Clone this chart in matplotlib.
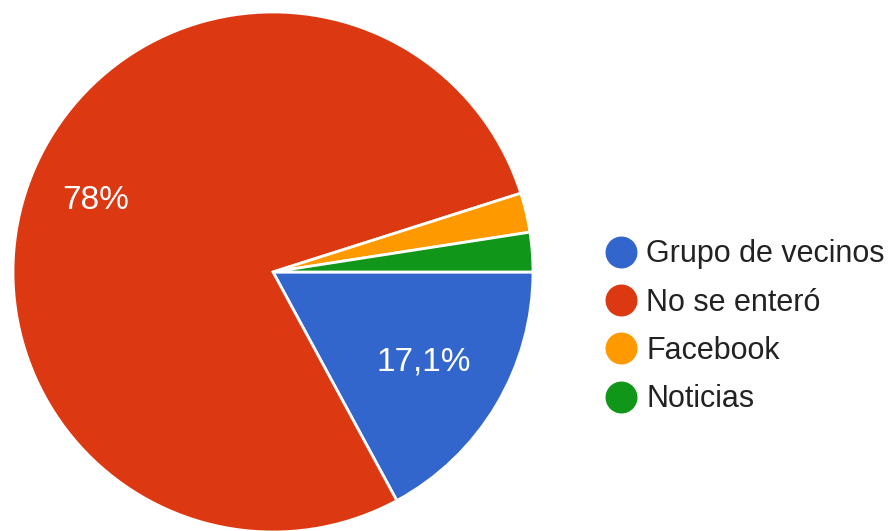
import math
import matplotlib
matplotlib.use('Agg')
import matplotlib.pyplot as plt
from matplotlib.lines import Line2D

# 資料
labels = ['Grupo de vecinos', 'No se enteró', 'Facebook', 'Noticias']
values = [17.1, 78.0, 2.45, 2.45]
colors = ['#3366cc', '#dc3912', '#ff9900', '#109618']

plt.rcParams['font.family'] = ['Liberation Sans', 'DejaVu Sans']

W, H = 888, 531
CX, CY, R = 273, H - 272, 260
fig = plt.figure(figsize=(W / 100, H / 100), dpi=100)
ax = fig.add_axes([0, 0, 1, 1])


def pct_text(p):
    '''只標示大於5%的扇形, 用逗號當小數點'''
    if p < 5:
        return ''
    s = ('%.1f' % p).rstrip('0').rstrip('.')
    return s.replace('.', ',') + '%'


wedges, texts, autotexts = ax.pie(
    values, colors=colors, startangle=0, counterclock=False,
    center=(CX, CY), radius=R, autopct=pct_text, pctdistance=0.7,
    wedgeprops=dict(edgecolor='white', linewidth=2),
    textprops=dict(color='white', fontsize=24), frame=True)
ax.set_xlim(0, W)
ax.set_ylim(0, H)
ax.set_aspect('equal')
ax.axis('off')

# 百分比標籤距離微調
label_dist = [0.675, 0.735, 0.7, 0.7]
for w, t, d in zip(wedges, autotexts, label_dist):
    mid = math.radians((w.theta1 + w.theta2) / 2)
    t.set_position((CX + d * R * math.cos(mid), CY + d * R * math.sin(mid)))

handles = [Line2D([], [], marker='o', linestyle='none', markersize=22,
                  markerfacecolor=c, markeredgecolor=c) for c in colors]
ax.legend(handles, labels, loc='upper left', bbox_to_anchor=(588, H - 224),
          bbox_transform=ax.transData, frameon=False, fontsize=22,
          handletextpad=0.25, labelspacing=0.6, handlelength=1.15,
          labelcolor='#222222', borderpad=0)

fig.savefig('out.png', dpi=100)
